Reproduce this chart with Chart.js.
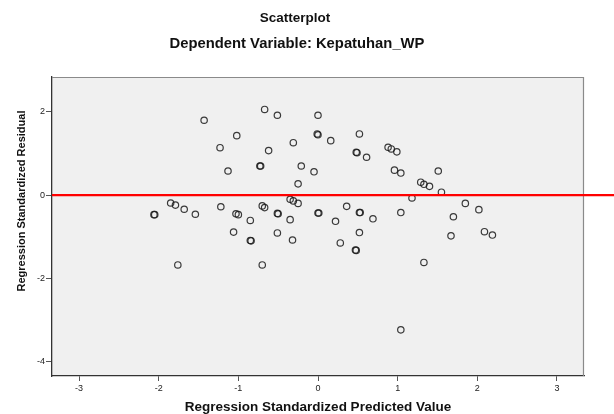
<!DOCTYPE html>
<html>
<head>
<meta charset="utf-8">
<script src="https://cdn.jsdelivr.net/npm/chart.js@4.4.0/dist/chart.umd.min.js"></script>
<style>
html,body{margin:0;padding:0;background:#fff;}
#wrap{width:614px;height:414px;}
</style>
</head>
<body>
<div id="wrap"><canvas id="c" width="614" height="414"></canvas></div>
<script>
const chartTitle = "Scatterplot";
const chartSubtitle = "Dependent Variable: Kepatuhan_WP";
const xAxisTitle = "Regression Standardized Predicted Value";
const yAxisTitle = "Regression Standardized Residual";
const xTicks = [-3, -2, -1, 0, 1, 2, 3];
const yTicks = [-4, -2, 0, 2];
const referenceY = 0;

const predicted = [
  -1.43, -1.02, -1.23, -1.13, -1.85, -1.79, -1.68, -2.06, -1.54, -1.22,
  -1.03, -1.00, -0.85, -1.06, -0.85, -0.84, -1.76, -0.67, -0.51, 0.00,
  -0.31, -0.01, 0.00, 0.16, 0.52, -0.62, 0.48, 0.49, 0.61, 0.88,
  0.92, 0.99, -0.73, -0.72, -0.21, -0.05, 0.96, 1.04, -0.25, -0.35,
  -0.31, -0.25, -0.70, -0.67, -0.51, -0.50, -0.35, 0.00, 0.01, 0.36,
  0.52, 0.53, 0.22, 0.69, 1.04, -0.51, -0.32, 0.52, 0.28, 0.47,
  0.48, -0.70, 1.04, 1.51, 1.29, 1.33, 1.40, 1.55, 1.18, 1.85,
  2.02, 1.70, 1.67, 2.09, 2.19, 1.33, -2.05
];
const residual = [
  1.80, 1.43, 1.14, 0.58, -0.19, -0.24, -0.34, -0.47, -0.46, -0.28,
  -0.45, -0.47, -0.61, -0.89, -1.09, -1.10, -1.68, 2.06, 1.92, 1.92,
  1.26, 1.47, 1.45, 1.31, 1.47, 1.07, 1.03, 1.02, 0.91, 1.15,
  1.11, 1.04, 0.70, 0.70, 0.70, 0.56, 0.60, 0.53, 0.27, -0.10,
  -0.14, -0.20, -0.26, -0.30, -0.44, -0.45, -0.59, -0.43, -0.43, -0.27,
  -0.42, -0.42, -0.63, -0.57, -0.42, -0.91, -1.08, -0.90, -1.15, -1.32,
  -1.33, -1.68, -3.24, 0.58, 0.31, 0.26, 0.21, 0.07, -0.07, -0.20,
  -0.35, -0.52, -0.98, -0.88, -0.96, -1.62, -0.47
];

const points = predicted.map((x, i) => ({x: x, y: residual[i]}));
const FONT = "'Liberation Sans', Arial, sans-serif";

const decor = {
  id: 'decor',
  beforeDraw(chart) {
    const {ctx, chartArea: a} = chart;
    ctx.save();
    ctx.fillStyle = '#f0f0f0';
    ctx.fillRect(a.left, a.top, a.right - a.left, a.bottom - a.top);
    ctx.restore();
  },
  afterDatasetsDraw(chart) {
    const {ctx, chartArea: a, scales} = chart;
    ctx.save();
    ctx.strokeStyle = '#8a8a8a';
    ctx.lineWidth = 1.2;
    ctx.beginPath();
    ctx.moveTo(a.left, a.top + 0.5);
    ctx.lineTo(a.right - 0.5, a.top + 0.5);
    ctx.lineTo(a.right - 0.5, a.bottom);
    ctx.stroke();
    const y0 = scales.y.getPixelForValue(referenceY);
    ctx.strokeStyle = '#ff0000';
    ctx.lineWidth = 2.2;
    ctx.beginPath();
    ctx.moveTo(a.left, y0);
    ctx.lineTo(chart.width, y0);
    ctx.stroke();
    ctx.fillStyle = '#111';
    ctx.textAlign = 'center';
    ctx.textBaseline = 'alphabetic';
    ctx.font = 'bold 13.5px ' + FONT;
    ctx.fillText(chartTitle, 295, 22);
    ctx.font = 'bold 14.8px ' + FONT;
    ctx.fillText(chartSubtitle, 297, 48);
    ctx.font = 'bold 13.5px ' + FONT;
    ctx.fillText(xAxisTitle, 318, 411);
    ctx.translate(24.5, 201);
    ctx.rotate(-Math.PI / 2);
    ctx.font = 'bold 11px ' + FONT;
    ctx.fillText(yAxisTitle, 0, 0);
    ctx.restore();
  }
};

new Chart(document.getElementById('c'), {
  type: 'scatter',
  data: {
    datasets: [{
      data: points,
      pointStyle: 'circle',
      pointRadius: 3.2,
      pointHoverRadius: 3.2,
      backgroundColor: 'rgba(0,0,0,0)',
      borderColor: 'rgba(25,25,25,0.85)',
      borderWidth: 1.2
    }]
  },
  options: {
    responsive: false,
    animation: false,
    events: [],
    layout: {padding: {top: 77, right: 30, left: 0, bottom: 0}},
    plugins: {legend: {display: false}, tooltip: {enabled: false}, title: {display: false}},
    scales: {
      x: {
        type: 'linear',
        min: -3.34, max: 3.34,
        afterBuildTicks(s) { s.ticks = xTicks.map(v => ({value: v})); },
        afterFit(s) { s.height = 38; },
        grid: {drawOnChartArea: false, drawTicks: true, tickLength: 5, color: '#555', lineWidth: 1},
        border: {display: true, color: '#333', width: 1.3},
        ticks: {color: '#222', font: {family: FONT, size: 9}, padding: 2, maxRotation: 0}
      },
      y: {
        type: 'linear',
        min: -4.35, max: 2.84,
        afterBuildTicks(s) { s.ticks = yTicks.map(v => ({value: v})); },
        afterFit(s) { s.width = 52; },
        grid: {drawOnChartArea: false, drawTicks: true, tickLength: 6, color: '#555', lineWidth: 1},
        border: {display: true, color: '#333', width: 1.3},
        ticks: {color: '#222', font: {family: FONT, size: 9}, padding: 1}
      }
    }
  },
  plugins: [decor]
});
</script>
</body>
</html>
